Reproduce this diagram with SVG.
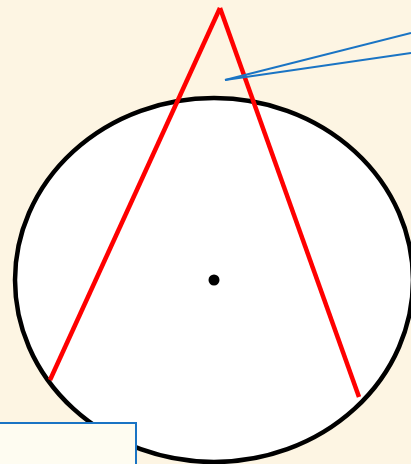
<svg xmlns="http://www.w3.org/2000/svg" width="411" height="464" viewBox="0 0 411 464">
<style>
.red{stroke:#ff0000;stroke-width:4.5;fill:none;stroke-linecap:butt}
.blue{stroke:#1a74c4;stroke-width:2;fill:none}
</style>
<rect x="0" y="0" width="411" height="464" fill="#fdf5e3"/>
<g id="circle">
<ellipse cx="214" cy="280" rx="199" ry="182" fill="#ffffff" stroke="#000000" stroke-width="4.5"/>
<circle cx="214" cy="280" r="5.5" fill="#000000"/>
</g>
<g id="connectors">
<line class="red" x1="220" y1="8" x2="50" y2="380"/>
<line class="red" x1="220" y1="8" x2="359" y2="397"/>
<line class="blue" x1="225" y1="80" x2="411" y2="33"/>
<line class="blue" x1="225" y1="80" x2="411" y2="53"/>
</g>
<g id="box">
<rect x="-2" y="423" width="138" height="45" fill="#fefcf1" stroke="#1a74c4" stroke-width="2"/>
</g>
</svg>
